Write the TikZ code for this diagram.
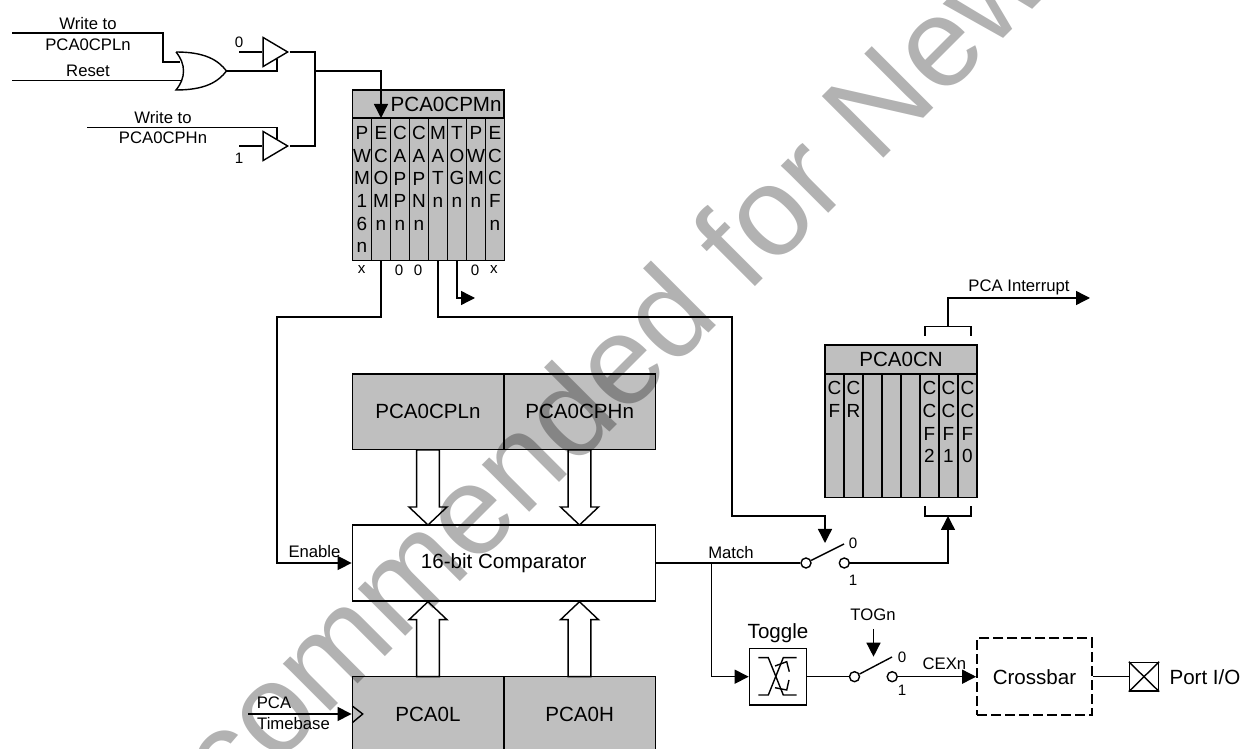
\documentclass[tikz,border=0pt]{standalone}
\usepackage{fontspec}
\setmainfont{Liberation Sans}
\usetikzlibrary{arrows.meta, positioning, shapes.geometric, calc}
\definecolor{boxgray}{HTML}{BFBFBF}
\begin{document}
\begin{tikzpicture}[
        x=0.02cm, y=-0.02cm,
        line width=0.8pt,
        >={Triangle[length=2.8mm, width=2.8mm]},
        lbl/.style={inner sep=0pt, font=\fontsize{9.5}{11.5}\selectfont},
        val/.style={inner sep=0pt, font=\fontsize{8.6}{10}\selectfont},
        big/.style={inner sep=0pt, font=\fontsize{11.7}{14}\selectfont},
        regbox/.style={draw, fill=boxgray, inner sep=0pt, font=\fontsize{11.7}{14}\selectfont},
        bitcell/.style={draw, fill=boxgray, inner sep=0pt, minimum width=0.38cm, anchor=north},
        bits/.style={inner sep=0pt, anchor=north, align=center, font=\fontsize{10.8}{12.85}\selectfont},
        plainbox/.style={draw, inner sep=0pt, font=\fontsize{11.7}{14}\selectfont},
        buffer/.style={draw, isosceles triangle, isosceles triangle stretches, inner sep=0pt,
            minimum width=0.58cm, minimum height=0.49cm, anchor=apex},
        latch/.style={draw, circle, fill=white, inner sep=0pt, minimum size=0.2cm},
        busarrow/.pic={\draw (0,0) -- (19,18) -- (11.4,18) -- (11.4,75) -- (-11.4,75) -- (-11.4,18) -- (-19,18) -- cycle;},
    ]
        \clip (0,0) rectangle (1242,749);

        \node[lbl] (wrl) at (88,23.5) {Write to};
        \node[lbl] (wrlb) at (88,45) {PCA0CPLn};
        \node[lbl] (rst) at (88,71) {Reset};
        \node[lbl] (wrh) at (163,117.5) {Write to};
        \node[lbl] (wrhb) at (163,138) {PCA0CPHn};
        \node[val] (zeroa) at (239,42) {0};
        \node[val] (onea) at (239,158) {1};

        \coordinate (wrlin) at (12,33);
        \coordinate (rstin) at (12,80.5);
        \coordinate (wrhin) at (87,127.5);
        \coordinate (ora) at (180,62);
        \coordinate (orb) at (182,80.5);
        \coordinate (orout) at (226.5,71);
        \draw (176,52) .. controls (205,52) and (218,60) .. (orout) .. controls (218,82) and (205,90) .. (176,90) .. controls (186,78) and (186,64) .. (176,52);

        \node[buffer] (bufa) at (289.5,52) {};
        \node[buffer] (bufb) at (289.5,146) {};
        \coordinate (bufain) at (239,52);
        \coordinate (bufbin) at (239,146);
        \coordinate (ena) at (277,59.5);
        \coordinate (enb) at (277,139);
        \coordinate (busj) at (315,71);

        \draw (wrlin) -| (163,62) -- (ora);
        \draw (rstin) -- (orb);
        \draw (orout) -| (ena);
        \draw (wrhin) -| (enb);
        \draw (bufain) -- (bufa.west);
        \draw (bufbin) -- (bufb.west);
        \draw (bufa.apex) -| (busj) -- (bufb.apex -| busj) -- (bufb.apex);

        \node[regbox, minimum width=3.03cm, minimum height=0.56cm, text width=2.93cm, inner xsep=0.05cm, align=right] (cpm) at (428.3,104) {PCA0CPMn};
        \node[bitcell, minimum height=2.84cm] (cpma) at (362,118) {};
        \node[bitcell, minimum height=2.84cm] (cpmb) at (381,118) {};
        \node[bitcell, minimum height=2.84cm] (cpmc) at (400,118) {};
        \node[bitcell, minimum height=2.84cm] (cpmd) at (419,118) {};
        \node[bitcell, minimum height=2.84cm] (cpme) at (438,118) {};
        \node[bitcell, minimum height=2.84cm] (cpmf) at (457,118) {};
        \node[bitcell, minimum height=2.84cm] (cpmg) at (476,118) {};
        \node[bitcell, minimum height=2.84cm] (cpmh) at (495,118) {};
        \node[bits] (ta) at (362,126) {P\\W\\M\\1\\6\\n};
        \node[bits] (tb) at (381,126) {E\\C\\O\\M\\n};
        \node[bits] (tc) at (400,126) {C\\A\\P\\P\\n};
        \node[bits] (td) at (419,126) {C\\A\\P\\N\\n};
        \node[bits] (te) at (438,126) {M\\A\\T\\n};
        \node[bits] (tf) at (457,126) {T\\O\\G\\n};
        \node[bits] (tg) at (476,126) {P\\W\\M\\n};
        \node[bits] (th) at (495,126) {E\\C\\C\\F\\n};
        \node[val] (va) at (361.7,270) {x};
        \node[val] (vb) at (399,270) {0};
        \node[val] (vc) at (418,270) {0};
        \node[val] (vd) at (475,270) {0};
        \node[val] (ve) at (494,270) {x};

        \draw[->] (busj) -| (cpmb.north);

        \node[regbox, minimum width=3.03cm, minimum height=1.51cm] (cpl) at (428,411.7) {PCA0CPLn};
        \node[regbox, minimum width=3.03cm, minimum height=1.51cm] (cph) at (579.7,411.7) {PCA0CPHn};
        \node[plainbox, minimum width=6.06cm, minimum height=1.515cm] (comp) at (503.8,563) {16-bit Comparator};
        \node[regbox, minimum width=3.03cm, minimum height=1.52cm] (pcal) at (428,714.5) {PCA0L};
        \node[regbox, minimum width=3.03cm, minimum height=1.52cm] (pcah) at (579.7,714.5) {PCA0H};

        \pic at (428,601.7) {busarrow};
        \pic at (579.5,601.7) {busarrow};
        \pic[rotate=180] at (428,525) {busarrow};
        \pic[rotate=180] at (579.5,525) {busarrow};

        \coordinate (tbin) at (248,714);
        \coordinate (cka) at (352.3,706);
        \coordinate (ckb) at (362.7,714);
        \coordinate (ckc) at (352.3,722.7);
        \draw (cka) -- (ckb) -- (ckc);
        \draw[->] (tbin) -- (pcal.west |- tbin);
        \node[lbl] (pcat) at (274,703) {PCA};
        \node[lbl] (tbt) at (293.5,724) {Timebase};

        \coordinate (enturn) at (277,317);
        \node[lbl] (ent) at (314.5,552) {Enable};
        \draw[->] (cpmb.south) |- (enturn) |- (comp.west);

        \coordinate (togend) at (475,298);
        \draw[->] (cpmf.south) |- (togend);

        \coordinate (matr) at (732,317);
        \coordinate (matd) at (732,516);
        \coordinate (matm) at (825,516);
        \coordinate (mata) at (825,543);
        \draw[->] (cpme.south) |- (matr) -- (matd) -- (matm) -- (mata);

        \node[regbox, minimum width=3.04cm, minimum height=0.58cm] (cn) at (901,359.3) {PCA0CN};
        \node[bitcell, minimum height=2.46cm] (cna) at (834.5,373.7) {};
        \node[bitcell, minimum height=2.46cm] (cnb) at (853.5,373.7) {};
        \node[bitcell, minimum height=2.46cm] (cnc) at (872.5,373.7) {};
        \node[bitcell, minimum height=2.46cm] (cnd) at (891.5,373.7) {};
        \node[bitcell, minimum height=2.46cm] (cne) at (910.5,373.7) {};
        \node[bitcell, minimum height=2.46cm] (cnf) at (929.5,373.7) {};
        \node[bitcell, minimum height=2.46cm] (cng) at (948.5,373.7) {};
        \node[bitcell, minimum height=2.46cm] (cnh) at (967.5,373.7) {};
        \node[bits] (ua) at (834.5,381) {C\\F};
        \node[bits] (ub) at (853.5,381) {C\\R};
        \node[bits] (uf) at (929.5,381) {C\\C\\F\\2};
        \node[bits] (ug) at (948.5,381) {C\\C\\F\\1};
        \node[bits] (uh) at (967.5,381) {C\\C\\F\\0};

        \coordinate (brta) at (925,336);
        \coordinate (brtb) at (971,336);
        \coordinate (brtm) at (948,326.7);
        \coordinate (brba) at (925,506);
        \coordinate (brbb) at (971,506);
        \coordinate (brbm) at (948,516);
        \coordinate (intr) at (1090,298);
        \draw (brta) |- (brtm) -| (brtb);
        \draw (brba) |- (brbm) -| (brbb);
        \draw[->] (brtm) |- (intr);
        \node[lbl] (intt) at (1019,287) {PCA Interrupt};

        \node[latch] (swa) at (806,563) {};
        \node[latch] (swb) at (844.3,563) {};
        \coordinate (swal) at (844,544);
        \draw (swa) -- (swal);
        \node[val] (swz) at (853,543) {0};
        \node[val] (swo) at (853,580) {1};
        \node[lbl] (matt) at (731,553) {Match};
        \draw (comp.east) -- (swa);
        \draw[->] (swb) -| (brbm);

        \coordinate (brj) at (711.7,563);
        \node[plainbox, minimum width=1.145cm, minimum height=1.14cm] (togb) at (778,676.7) {};
        \node[big] (togt) at (778,633) {Toggle};
        \draw (758.3,695) -- (768.3,695) -- (783.3,657.7) -- (796.7,657.7);
        \draw (758.3,657.7) -- (768.3,657.7) -- (783.3,695) -- (796.7,695);
        \draw (775,666) -- (786.7,661.7) -- (789.3,671.7);
        \draw (775,687.7) -- (786.7,690) -- (789,680);
        \draw[->] (brj) |- (togb.west);

        \node[latch] (swc) at (854.5,676.7) {};
        \node[latch] (swd) at (892.2,676.7) {};
        \coordinate (swcl) at (892,657);
        \draw (swc) -- (swcl);
        \node[val] (swy) at (902,657.7) {0};
        \node[val] (swx) at (902,690.7) {1};
        \node[lbl] (togn) at (873,615) {TOGn};
        \coordinate (togs) at (873.5,629);
        \coordinate (togp) at (873.5,656.7);
        \draw[->] (togs) -- (togp);
        \draw (togb.east) -- (swc);

        \node[draw, dash pattern=on 2mm off 0.8mm, line width=1.3pt, inner sep=0pt, minimum width=2.29cm, minimum height=1.54cm, font=\fontsize{11.7}{14}\selectfont] (xbar) at (1034.5,676.7) {Crossbar};
        \node[lbl] (cext) at (944.4,664) {CEXn};
        \draw[->] (swd) -- (xbar.west);

        \node[plainbox, minimum width=0.58cm, minimum height=0.57cm] (port) at (1144,676.7) {};
        \draw (port.north west) -- (port.south east);
        \draw (port.south west) -- (port.north east);
        \draw (xbar.east) -- (port.west);
        \node[big] (portt) at (1205,676.7) {Port I/O};

        \node[rotate=45, text=black, text opacity=0.3, inner sep=0pt, anchor=base west, font=\fontsize{72}{80}\selectfont] (mark) at (230,812) {commended for New};
    \end{tikzpicture}
\end{document}
